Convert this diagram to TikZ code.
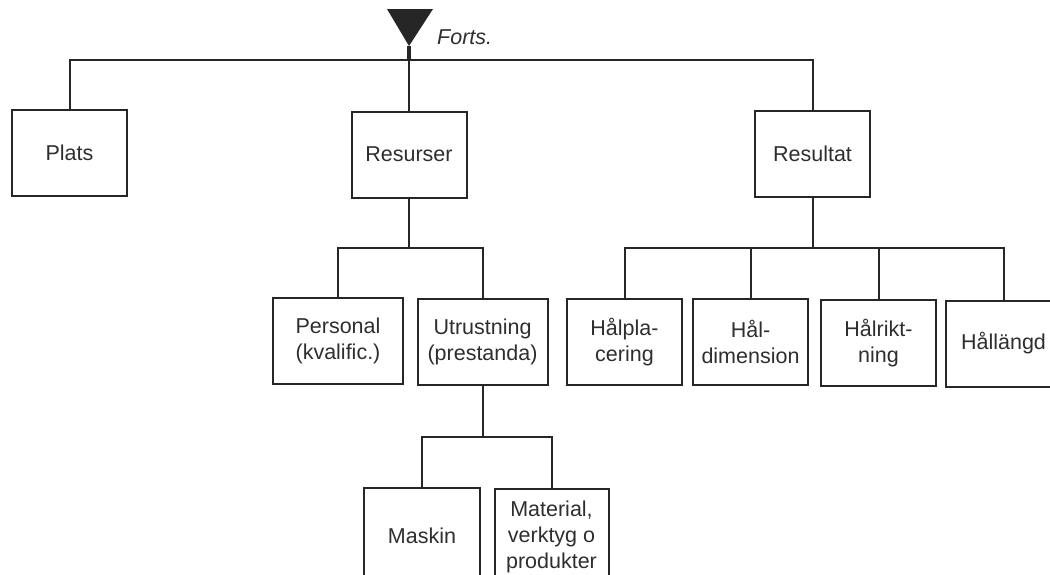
\documentclass[tikz,border=0pt]{standalone}
\usepackage{fontspec}
\setmainfont{Liberation Sans}
\begin{document}
\begin{tikzpicture}[x=1pt,y=-1pt,
  linecol/.style={draw=black!85},
  box/.style={linecol, line width=2pt, rectangle, minimum width=115pt, minimum height=86pt,
    inner sep=0pt, align=center, text=black!82,
    font=\fontsize{21.5}{26}\selectfont},
  widebox/.style={box, minimum width=130pt},
  lowbox/.style={box, minimum height=96pt},
  conn/.style={linecol, line width=2pt},
  lbl/.style={text=black!82, font=\fontsize{21.5}{26}\selectfont\itshape, inner sep=0pt}]
\useasboundingbox (0,0) rectangle (1050,574);
\clip (0,0) rectangle (1050,574);

% continuation marker
\coordinate (apex) at (409,46);
\coordinate (bus) at (409,60);
\fill[black!85] (387,9) -- (433,9) -- (apex) -- cycle;
\draw[linecol, line width=4pt] (apex) -- (bus);
\node[lbl, anchor=west] (forts) at (437,37) {Forts.};

% first level
\node[box] (plats) at (69.5,152.5) {Plats};
\node[box] (resurser) at (409,154.5) {Resurser};
\node[box] (resultat) at (812.5,154) {Resultat};

% resources
\node[widebox] (personal) at (338,341) {Personal\\(kvalific.)};
\node[widebox] (utrust) at (482.5,342) {Utrustning\\(prestanda)};
\node[lowbox, minimum width=116pt] (maskin) at (422,536) {Maskin};
\node[lowbox, minimum width=114pt] (material) at (551.5,537) {Material,\\verktyg o\\produkter};

% results
\node[box] (placering) at (624.5,342) {Hålpla-\\cering};
\node[box] (dimension) at (750.5,342) {Hål-\\dimension};
\node[box] (riktning) at (878.5,343) {Hålrikt-\\ning};
\node[box] (langd) at (1003.5,343.5) {Hållängd};

% connectors
\draw[conn] (plats.north) |- (bus) -| (resultat.north);
\draw[conn] (bus) -- (resurser.north);

\coordinate (rb) at (409,248);
\draw[conn] (resurser.south) -- (rb);
\draw[conn] (personal.north) |- (rb) -| (utrust.north);

\coordinate (ub) at (482.5,437);
\draw[conn] (utrust.south) -- (ub);
\draw[conn] (maskin.north) |- (ub) -| (material.north);

\coordinate (sb) at (812.5,248);
\draw[conn] (resultat.south) -- (sb);
\draw[conn] (placering.north) |- (sb) -| (langd.north);
\draw[conn] (dimension.north) -- (dimension.north |- sb);
\draw[conn] (riktning.north) -- (riktning.north |- sb);
\end{tikzpicture}
\end{document}
